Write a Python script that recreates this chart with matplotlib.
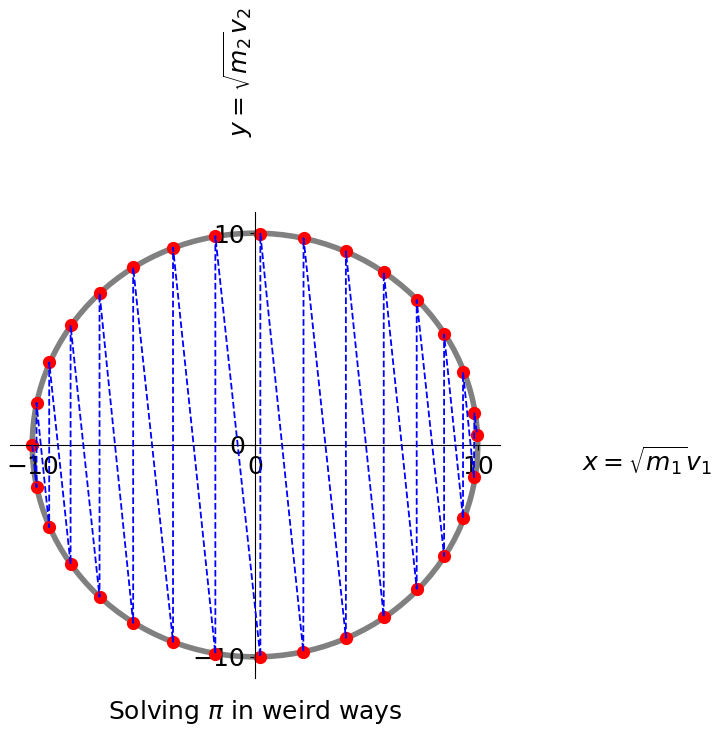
import numpy as np
import matplotlib
matplotlib.use("Agg")
from matplotlib import pyplot as plt
from matplotlib.patches import Circle

# energy circle radius
radius = 10

# collision path in phase space (in visiting order)
path_x = [-10.00, -9.81, -9.81, -9.24, -9.24, -8.28, -8.28, -6.98, -6.98,
          -5.47, -5.47, -3.68, -3.68, -1.78, -1.78, 0.24, 0.24, 2.17, 2.18,
          4.08, 4.08, 5.78, 5.78, 7.26, 7.26, 8.49, 8.49, 9.34, 9.34,
          9.83, 9.85, 9.97]
path_y = [0.00, -1.99, 1.99, -3.88, 3.90, -5.63, 5.65, -7.17, 7.16,
          -8.40, 8.38, -9.29, 9.32, -9.86, 9.86, -10.00, 9.98, -9.76, 9.76,
          -9.10, 9.15, -8.11, 8.16, -6.79, 6.84, -5.24, 5.22, -3.46, 3.43,
          -1.52, 1.50, 0.47]

ticks = [-10, 0, 10]

fig = plt.figure(figsize=(7.19, 7.33), dpi=100)
ax = fig.add_axes([10 / 719, 55 / 733, 490 / 719, 466 / 733])

ax.add_patch(Circle((0, 0), radius, fill=False, edgecolor="gray", lw=4, zorder=1))
ax.plot(path_x, path_y, "o", color="red", markersize=8.5, zorder=2)
ax.plot(path_x, path_y, "--", color="blue", lw=1.3, zorder=3)

ax.set_xlim(-11, 11)
ax.set_ylim(-11, 11)
ax.set_xticks(ticks)
ax.set_yticks(ticks)
ax.tick_params(labelsize=18)

ax.spines["left"].set_position("zero")
ax.spines["bottom"].set_position("zero")
ax.spines["right"].set_visible(False)
ax.spines["top"].set_visible(False)

ax.set_xlabel(r"$x = \sqrt{m_1} v_1$", fontsize=18)
ax.set_ylabel(r"$y = \sqrt{m_2} v_2$", fontsize=18)
ax.xaxis.set_label_coords(1.3, 0.5)
ax.yaxis.set_label_coords(0.5, 1.3)
ax.set_title(r"Solving $\pi$ in weird ways", fontsize=18, y=-0.105)

fig.savefig("out.png", dpi=100)
